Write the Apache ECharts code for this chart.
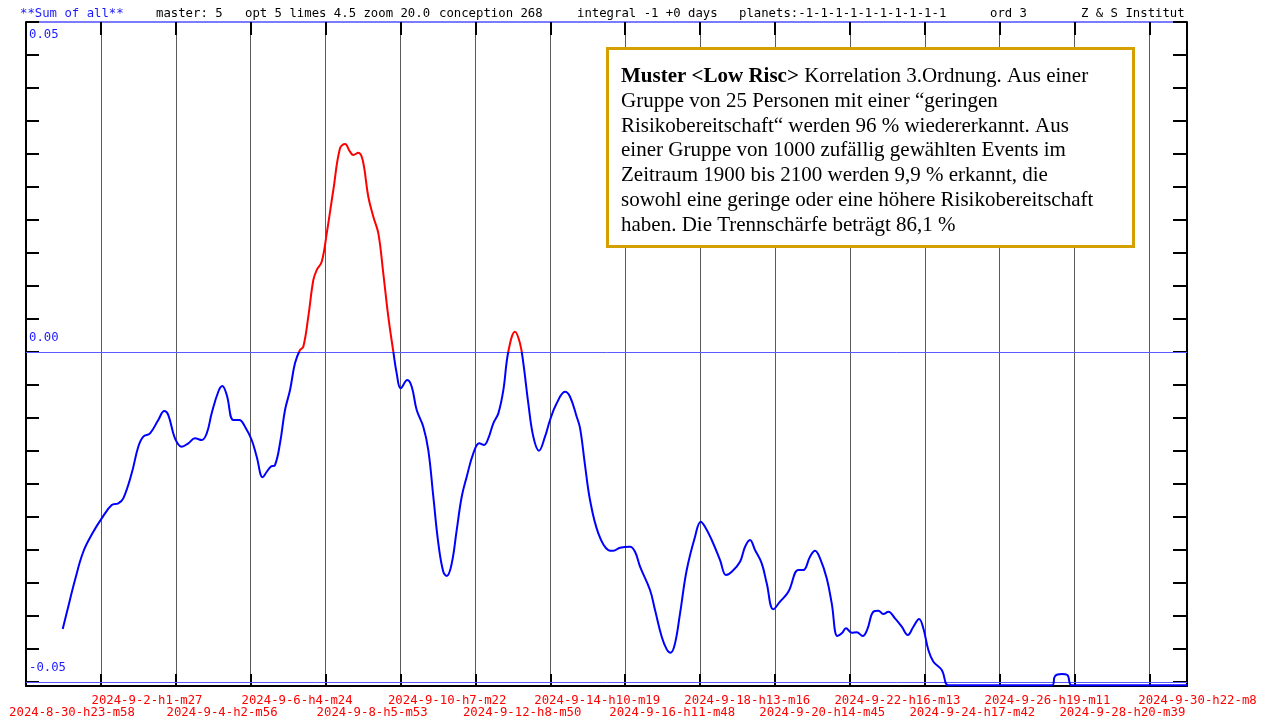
<!DOCTYPE html>
<html>
<head>
<meta charset="utf-8">
<script src="https://cdn.jsdelivr.net/npm/echarts@6/dist/echarts.min.js"></script>
<style>html,body{margin:0;padding:0;background:#fff;}#c{width:1265px;height:720px;}</style>
</head>
<body>
<div id="c"></div>
<script>
// x position in grid-line units (grid line k at k), y = value
const curveX = [-0.510,-0.457,-0.346,-0.235,-0.101,0.011,0.144,0.232,0.299,0.411,0.499,0.566,0.656,0.766,0.846,0.900,0.989,1.079,1.167,1.256,1.346,1.413,1.479,1.567,1.621,1.680,1.768,1.848,1.924,2.013,2.080,2.160,2.214,2.267,2.324,2.391,2.458,2.525,2.591,2.658,2.702,2.769,2.836,2.881,2.948,3.015,3.103,3.192,3.259,3.326,3.370,3.437,3.495,3.570,3.637,3.704,3.770,3.837,3.904,3.949,4.003,4.091,4.150,4.216,4.304,4.371,4.438,4.505,4.571,4.617,4.684,4.750,4.817,4.884,4.972,5.052,5.115,5.172,5.239,5.306,5.373,5.439,5.529,5.595,5.640,5.706,5.773,5.849,5.929,5.996,6.085,6.196,6.263,6.352,6.397,6.463,6.530,6.641,6.774,6.841,6.931,7.064,7.131,7.198,7.331,7.398,7.487,7.554,7.607,7.665,7.732,7.821,7.932,8.008,8.065,8.155,8.266,8.346,8.422,8.533,8.600,8.666,8.733,8.822,8.889,8.977,9.067,9.178,9.311,9.378,9.467,9.534,9.601,9.690,9.757,9.832,9.891,9.948,10.024,10.091,10.171,10.232,10.312,10.379,10.446,10.513,10.602,10.692,10.772,10.847,10.923,10.980,11.047,11.114,11.226,11.314,11.470,12.004,12.698,12.738,12.828,12.903,12.961,13.339,14.007,14.5];
const curveY = [-0.04197,-0.03955,-0.03455,-0.03026,-0.02723,-0.02520,-0.02318,-0.02292,-0.02217,-0.01838,-0.01435,-0.01283,-0.01232,-0.01030,-0.00894,-0.00955,-0.01308,-0.01435,-0.01383,-0.01308,-0.01333,-0.01232,-0.00929,-0.00602,-0.00515,-0.00652,-0.01030,-0.01030,-0.01132,-0.01333,-0.01586,-0.01898,-0.01814,-0.01738,-0.01712,-0.01383,-0.00879,-0.00576,-0.00171,0.00030,0.00080,0.00535,0.01091,0.01242,0.01368,0.01798,0.02455,0.03086,0.03152,0.03035,0.02985,0.03020,0.02909,0.02353,0.02050,0.01798,0.01192,0.00535,0.00005,-0.00323,-0.00550,-0.00424,-0.00526,-0.00879,-0.01132,-0.01485,-0.02192,-0.02898,-0.03329,-0.03394,-0.03202,-0.02697,-0.02192,-0.01889,-0.01535,-0.01383,-0.01409,-0.01308,-0.01080,-0.00929,-0.00576,0.00005,0.00308,0.00132,-0.00171,-0.00777,-0.01283,-0.01495,-0.01283,-0.01030,-0.00777,-0.00602,-0.00677,-0.00980,-0.01152,-0.01712,-0.02242,-0.02747,-0.03000,-0.03011,-0.02965,-0.02950,-0.03026,-0.03253,-0.03606,-0.03909,-0.04314,-0.04505,-0.04556,-0.04414,-0.03959,-0.03303,-0.02798,-0.02571,-0.02647,-0.02848,-0.03152,-0.03379,-0.03329,-0.03177,-0.02950,-0.02848,-0.03000,-0.03202,-0.03505,-0.03898,-0.03783,-0.03632,-0.03303,-0.03303,-0.03102,-0.03011,-0.03126,-0.03429,-0.03808,-0.04303,-0.04262,-0.04186,-0.04253,-0.04247,-0.04303,-0.04202,-0.03935,-0.03920,-0.03970,-0.03935,-0.04035,-0.04162,-0.04288,-0.04162,-0.04045,-0.04186,-0.04515,-0.04692,-0.04818,-0.0505,-0.0505,-0.0505,-0.0505,-0.04909,-0.04879,-0.04894,-0.0505,-0.0505,-0.0505,-0.0505];

const xLabels = ['2024-8-30-h23-m58','2024-9-2-h1-m27','2024-9-4-h2-m56','2024-9-6-h4-m24','2024-9-8-h5-m53','2024-9-10-h7-m22','2024-9-12-h8-m50','2024-9-14-h10-m19','2024-9-16-h11-m48','2024-9-18-h13-m16','2024-9-20-h14-m45','2024-9-22-h16-m13','2024-9-24-h17-m42','2024-9-26-h19-m11','2024-9-28-h20-m39','2024-9-30-h22-m8'];
const yTickValues = [-0.05,-0.045,-0.04,-0.035,-0.03,-0.025,-0.02,-0.015,-0.01,-0.005,0,0.005,0.01,0.015,0.02,0.025,0.03,0.035,0.04,0.045,0.05];
const yLabelValues = [-0.05, 0, 0.05];
const yLabelTexts = ['-0.05', '0.00', '0.05'];
const refLines = [0, -0.05];

const headerParts = [
  {t:'**Sum of all**', x:20, c:'#1a1aff'},
  {t:'master: 5', x:156, c:'#000'},
  {t:'opt 5 limes 4.5 zoom 20.0', x:245, c:'#000'},
  {t:'conception 268', x:439, c:'#000'},
  {t:'integral -1 +0 days', x:577, c:'#000'},
  {t:'planets:-1-1-1-1-1-1-1-1-1-1', x:739, c:'#000'},
  {t:'ord 3', x:990, c:'#000'},
  {t:'Z & S Institut', x:1081, c:'#000'}
];
const boxLines = [
  '{b|Muster <Low Risc>} Korrelation 3.Ordnung. Aus einer',
  'Gruppe von 25 Personen mit einer \u201cgeringen',
  'Risikobereitschaft\u201c werden 96 % wiedererkannt. Aus',
  'einer Gruppe von 1000 zuf\u00e4llig gew\u00e4hlten Events im',
  'Zeitraum 1900 bis 2100 werden 9,9 % erkannt, die',
  'sowohl eine geringe oder eine h\u00f6here Risikobereitschaft',
  'haben. Die Trennsch\u00e4rfe betr\u00e4gt 86,1 %'
];

const MONO = 'DejaVu Sans Mono';
const data = curveX.map((x, i) => [x, curveY[i]]);

const chart = echarts.init(document.getElementById('c'), null, {renderer: 'canvas'});

const graphic = headerParts.map(p => ({
  type: 'text', x: p.x, y: 14, z: 50,
  style: {text: p.t, fill: p.c, fontFamily: MONO, fontSize: 12.3, verticalAlign: 'middle', align: 'left'}
}));
graphic.push({
  type: 'rect', z: 100,
  shape: {x: 607.5, y: 48.5, width: 526, height: 198},
  style: {fill: '#fff', stroke: '#d4a000', lineWidth: 3}
});
graphic.push({
  type: 'text', x: 621, y: 64.5, z: 101,
  style: {
    text: boxLines.join('\n'),
    fill: '#000', fontFamily: 'Liberation Serif', fontSize: 21, lineHeight: 24.7,
    rich: {b: {fontWeight: 'bold', fontFamily: 'Liberation Serif', fontSize: 21, lineHeight: 24.7, fill: '#000'}}
  }
});

function labelAxis(gridIndex, min, max, margin) {
  return {
    gridIndex: gridIndex, type: 'value', min: min, max: max, interval: 2, position: 'bottom',
    axisLine: {show: false}, axisTick: {show: false}, splitLine: {show: false},
    axisLabel: {show: true, showMinLabel: true, showMaxLabel: true, margin: margin,
      color: '#ff0000', fontFamily: MONO, fontSize: 12.3, lineHeight: 14,
      formatter: function (v) { return xLabels[Math.round(v)] || ''; }}
  };
}

const option = {
  animation: false,
  backgroundColor: '#fff',
  grid: [
    {left: 26, right: 78, top: 22, bottom: 34},
    {left: 147, right: 67.5, top: 22, bottom: 34},
    {left: 72, right: 142.6, top: 22, bottom: 34}
  ],
  xAxis: [
    {gridIndex: 0, type: 'value', min: -1, max: 14.5, interval: 1, position: 'bottom',
     axisLine: {show: true, onZero: false, lineStyle: {color: '#000', width: 2}},
     axisTick: {show: true, inside: true, length: 12, lineStyle: {color: '#000', width: 2}},
     axisLabel: {show: false},
     splitLine: {show: true, lineStyle: {color: '#5a5a5a', width: 1}}},
    {gridIndex: 0, type: 'value', min: -1, max: 14.5, interval: 1, position: 'top',
     axisLine: {show: true, onZero: false, lineStyle: {color: '#5050ff', width: 1.5}},
     axisTick: {show: true, inside: true, length: 13, lineStyle: {color: '#000', width: 2}},
     axisLabel: {show: false}, splitLine: {show: false}},
    labelAxis(1, 1, 15, 8),
    labelAxis(2, 0, 14, 22)
  ],
  yAxis: [
    {gridIndex: 0, type: 'value', min: -0.0506, max: 0.05, position: 'left',
     axisLine: {show: true, onZero: false, lineStyle: {color: '#000', width: 2}},
     axisTick: {show: true, inside: true, length: 13, customValues: yTickValues, lineStyle: {color: '#000', width: 2}},
     splitLine: {show: false},
     axisLabel: {show: true, inside: true, margin: 3, customValues: yLabelValues,
       color: '#1a1aff', fontFamily: MONO, fontSize: 12.3,
       formatter: function (v) {
         let idx = 0, best = 1;
         yLabelValues.forEach((y, i) => { if (Math.abs(y - v) < best) { best = Math.abs(y - v); idx = i; } });
         const t = yLabelTexts[idx];
         return v > 0.04 ? '{g2| }\n{t|' + t + '}' : '{t|' + t + '}\n{g1| }';
       },
       rich: {
         t: {color: '#1a1aff', fontFamily: MONO, fontSize: 12.3, lineHeight: 14},
         g1: {fontSize: 12, lineHeight: 28},
         g2: {fontSize: 12, lineHeight: 26}
       }}},
    {gridIndex: 0, type: 'value', min: -0.0506, max: 0.05, position: 'right',
     axisLine: {show: true, onZero: false, lineStyle: {color: '#000', width: 2}},
     axisTick: {show: true, inside: true, length: 14, customValues: yTickValues, lineStyle: {color: '#000', width: 2}},
     axisLabel: {show: false}, splitLine: {show: false}},
    {gridIndex: 1, type: 'value', min: 0, max: 1, show: false},
    {gridIndex: 2, type: 'value', min: 0, max: 1, show: false}
  ],
  visualMap: {
    type: 'piecewise', show: false, dimension: 1, seriesIndex: 0,
    pieces: [{gt: 0, lte: 0.2, color: '#ff0000'}, {gte: -0.2, lte: 0, color: '#0000ff'}],
    outOfRange: {color: '#0000ff'}
  },
  series: [{
    type: 'line', xAxisIndex: 0, yAxisIndex: 0, data: data,
    smooth: 0.4, showSymbol: false, symbol: 'none',
    lineStyle: {width: 2},
    z: 5,
    markLine: {
      silent: true, symbol: 'none', animation: false,
      label: {show: false},
      lineStyle: {color: '#5a5aff', width: 1, type: 'solid'},
      data: refLines.map(v => ({yAxis: v}))
    }
  }],
  graphic: graphic
};
chart.setOption(option);
</script>
</body>
</html>
